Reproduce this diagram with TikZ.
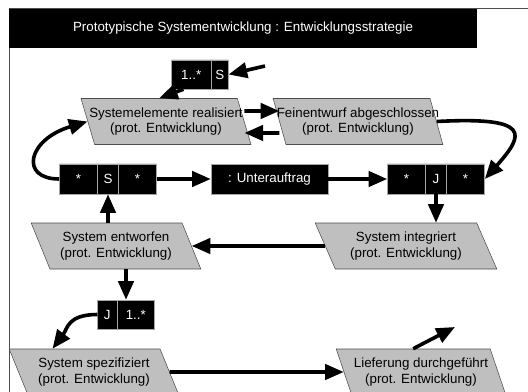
\documentclass[tikz,border=0pt]{standalone}
\usepackage{fontspec}
\setmainfont{Liberation Sans}
\usetikzlibrary{shapes.geometric,shapes.multipart,arrows.meta,positioning,calc}

\begin{document}
\begin{tikzpicture}[x=0.75pt, y=-0.75pt,
    zustand/.style={trapezium, trapezium left angle=113.5, trapezium right angle=66.5, trapezium stretches=true, draw=black!70, fill=gray!50, minimum width=127.5pt, minimum height=34.5pt, inner xsep=-10pt, inner ysep=0pt, align=center, font=\fontsize{10}{11.5}\selectfont},
    blk/.style={fill=black, draw=white!65!black, text=white, inner sep=0pt, minimum height=22.5pt, font=\fontsize{10}{12}\selectfont},
    kette/.style={blk, rectangle split, rectangle split horizontal, rectangle split parts=#1},
    arrow/.style={-{Triangle[length=14pt,width=11.5pt]}, line width=2.7pt}
]
    \useasboundingbox (0,0) rectangle (528,392);
    \draw[black!70, line width=0.75pt] (528,9) -- (9,9) -- (9,392);
    \node[fill=black, text=white, minimum width=351pt, minimum height=29.25pt, inner sep=0pt, font=\fontsize{10}{12}\selectfont] (titel) at (243,28.5) {Prototypische Systementwicklung : Entwicklungsstrategie};

    % Zustaende
    \node[zustand] (sysreal) at (166,121.5) {Systemelemente realisiert\\(prot. Entwicklung)};
    \node[zustand] (fein) at (358,121.5) {Feinentwurf abgeschlossen\\(prot. Entwicklung)};
    \node[zustand] (entworfen) at (116,246) {System entworfen\\(prot. Entwicklung)};
    \node[zustand, minimum width=136.5pt] (integriert) at (406,246) {System integriert\\(prot. Entwicklung)};
    \node[zustand] (spez) at (94,372) {System spezifiziert\\(prot. Entwicklung)};
    \node[zustand] (liefer) at (421,372) {Lieferung durchgef\"uhrt\\(prot. Entwicklung)};

    % Verknuepfungen
    \node[kette=2, minimum height=21.75pt] (kopf) at (200,74.5) {\makebox[29.25pt]{1..*}\nodepart{two}\makebox[12.75pt]{S}};
    \node[kette=3] (sstern) at (108,179) {\makebox[28.5pt]{*}\nodepart{two}\makebox[15pt]{S}\nodepart{three}\makebox[28.5pt]{*}};
    \node[blk, minimum width=87.75pt] (unter) at (269.5,179) {: Unterauftrag};
    \node[kette=3] (jstern) at (436,179) {\makebox[28.5pt]{*}\nodepart{two}\makebox[15pt]{J}\nodepart{three}\makebox[28.5pt]{*}};
    \node[kette=2, minimum height=21.75pt] (jbox) at (126,314.5) {\makebox[14.25pt]{J}\nodepart{two}\makebox[27.75pt]{1..*}};

    \coordinate (ein) at (265,66);
    \coordinate (aus) at (455,327);

    \draw[arrow] (ein) -- (kopf.east);
    \draw[arrow] ([xshift=9pt]kopf.south west) -- (sysreal.top side);
    \draw[arrow] ([yshift=7.9pt]sysreal.east) -- ([yshift=7.9pt]fein.west);
    \draw[arrow] ([yshift=-8.6pt]fein.west) -- ([yshift=-8.6pt]sysreal.east);
    \draw[arrow] (sstern.west) .. controls +(-40,0) and +(-60,18) .. (sysreal.west);
    \draw[arrow] (fein.east) .. controls +(95,-5) and +(40,-45) .. (jstern.east);
    \draw[arrow] (sstern.east) -- (unter.west);
    \draw[arrow] (unter.east) -- (jstern.west);
    \draw[arrow] (sstern.south |- entworfen.north) -- (sstern.south);
    \draw[arrow] (jstern.south) -- (jstern.south |- integriert.north);
    \draw[arrow] (integriert.west) -- (entworfen.east);
    \draw[arrow] (jbox.north |- entworfen.south) -- (jbox.north);
    \draw[arrow] (jbox.west) .. controls +(-30,0) and +(15,-20) .. ([xshift=-24pt]spez.top side);
    \draw[arrow] (spez.east) -- (liefer.west);
    \draw[arrow] (liefer.top side) -- (aus);
\end{tikzpicture}
\end{document}
